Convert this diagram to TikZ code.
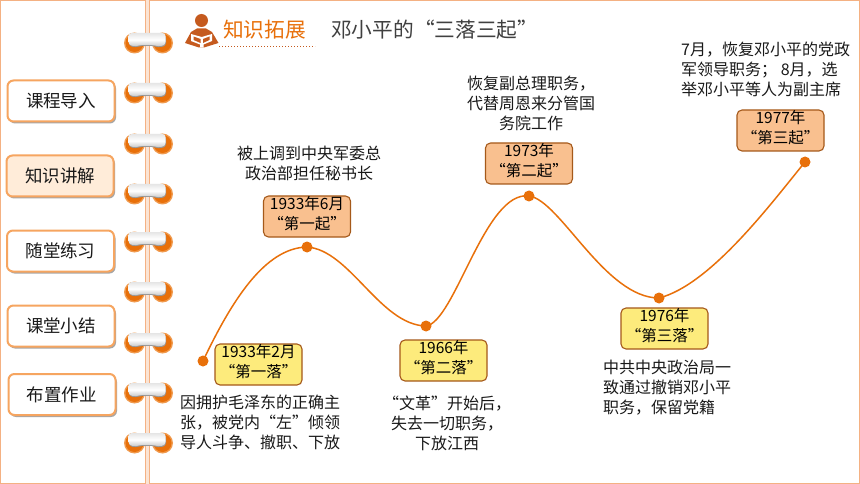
\documentclass[tikz,border=0pt]{standalone}
\usepackage{fontspec}
\setmainfont{Noto Sans CJK SC}
\definecolor{pb}{HTML}{F4B183}
\definecolor{tab}{HTML}{F6A560}
\definecolor{ring}{HTML}{E8700A}
\definecolor{ringo}{HTML}{F09A4E}
\definecolor{brownb}{HTML}{A5591A}
\definecolor{ic}{HTML}{C55A1E}
\definecolor{upfill}{HTML}{F9C08F}
\definecolor{downfill}{HTML}{FDEB7C}
\newcommand{\lowpad}{\rule[-6.5pt]{0pt}{6.5pt}}
\tikzset{
 tabbox/.style={draw=tab,line width=2pt,rounded corners=6pt,fill=white,minimum width=107pt,minimum height=41pt,inner sep=0pt,font=\fontsize{17.5}{20}\selectfont,text=black!90},
 tabshadow/.style={fill=black!35,rounded corners=6pt,draw=none,minimum width=107pt,minimum height=41pt},
 upbox/.style={draw=brownb,line width=1.1pt,rounded corners=5pt,fill=upfill,minimum width=87pt,minimum height=41pt,inner sep=0pt,align=center,font=\fontsize{15.5}{20}\selectfont},
 downbox/.style={upbox,fill=downfill},
 dot/.style={circle,fill=ring,inner sep=0pt,minimum size=11pt},
 txt/.style={font=\fontsize{16}{20}\selectfont,align=left,inner sep=0pt,text=black!90},
 curve/.style={draw=ring,line width=1.5pt},
}
\newcommand{\bindring}[1]{%
 \fill[ringo] (134.5,#1+1) circle (10.5);
 \fill[ringo] (162.5,#1+1) circle (10.5);
 \fill[ring] (134.5,#1+1) circle (9);
 \fill[ring] (162.5,#1+1) circle (9);
 \fill[black!40,rounded corners=3pt]
   (129,#1-7) -- (166,#1-7) -- (166,#1+4) -- (158,#1+5.5) .. controls (152,#1+3.5) and (142,#1+3.5) .. (136,#1+5.5) -- (129,#1+4) -- cycle;
 \shade[top color=black!10,bottom color=black!22,middle color=white,rounded corners=3pt]
   (128.5,#1-9) -- (165.5,#1-9) -- (165.5,#1+3) -- (158,#1+4.5) .. controls (152,#1+2.5) and (142,#1+2.5) .. (136,#1+4.5) -- (128.5,#1+3) -- cycle;
}
\begin{document}
\begin{tikzpicture}[x=1pt,y=-1pt]
\useasboundingbox (0,0) rectangle (860,484);
\fill[white] (0,0) rectangle (860,484);
% page frame
\draw[pb,line width=1pt] (0.5,484) -- (0.5,0.5) -- (859.5,0.5) -- (859.5,484);
\draw[pb,line width=1pt] (0.5,483.5) -- (146,483.5) (149.5,483.5) -- (860,483.5);
\fill[pb!35] (146,0) rectangle (149,484);
\draw[pb,line width=1pt] (145.3,0) -- (145.3,484) (149.5,0) -- (149.5,484);
% rings
\bindring{42}\bindring{92}\bindring{143}\bindring{193}\bindring{241}\bindring{291}\bindring{342}\bindring{392}\bindring{442}
% tabs
\foreach \xx/\yy/\nm/\lb/\fl in {61/101/a/课程导入/white,60/176/b/知识讲解/orange!15,60.5/251/c/随堂练习/white,61/326/d/课堂小结/white,62/394.5/e/布置作业/white}{
 \node[tabshadow] at (\xx+1.5,\yy+2) {};
 \node[tabbox,fill=\fl] (tab\nm) at (\xx,\yy) {\lb};
}
% heading icon
\fill[ic] (201.5,20.5) circle (6.5);
\fill[ic] (185,43) -- (191,32) -- (197,28.5) -- (206,28.5) -- (212,32) -- (218.5,43) -- (204,47.5) -- (199,47.5) -- cycle;
\fill[white] (191,34) -- (201.7,37) -- (212,34) -- (212,41) -- (203.5,44.5) -- (203.5,47.5) -- (200,47.5) -- (200,44.5) -- (191,41) -- cycle;
\fill[ic] (193.5,36.5) -- (200.5,39) -- (200.5,43) -- (193.5,40) -- cycle;
\fill[ic] (209.5,36.5) -- (203,39) -- (203,43) -- (209.5,40) -- cycle;
\node[inner sep=0pt,anchor=west,text=ring,font=\fontsize{20.7}{24}\selectfont] (ttl) at (223,30) {知识拓展};
\coordinate (ua) at (219,47);
\coordinate (ub) at (315,47);
\draw[ic,dotted,line width=1pt] (ua) -- (ub);
\node[inner sep=0pt,anchor=west,text=black!75,font=\fontsize{20.7}{24}\selectfont] (sub) at (331,30) {邓小平的“三落三起”};
% curve dots
\node[dot] (p1) at (203,361) {};
\node[dot] (p2) at (307,247) {};
\node[dot] (p3) at (426,326) {};
\node[dot] (p4) at (529,196) {};
\node[dot] (p5) at (659,298) {};
\node[dot] (p6) at (805,162) {};
\draw[curve] (p1.center) .. controls (232,300) and (265,248) .. (p2.center)
 .. controls (350,250) and (380,325) .. (p3.center)
 .. controls (455,322) and (485,190) .. (p4.center)
 .. controls (560,200) and (605,298) .. (p5.center)
 .. controls (710,285) and (770,205) .. (p6.center);
% boxes
\node[downbox] (b1) at (258.5,364.5) {1933年2月\\“第一落”\lowpad};
\node[upbox] (b2) at (307,216.5) {1933年6月\\“第一起”\lowpad};
\node[downbox] (b3) at (443.5,360.5) {1966年\\“第二落”\lowpad};
\node[upbox] (b4) at (529,163.5) {1973年\\“第二起”\lowpad};
\node[downbox] (b5) at (664.5,328.5) {1976年\\“第三落”\lowpad};
\node[upbox] (b6) at (780.5,130.5) {1977年\\“第三起”\lowpad};
% texts
\node[txt,anchor=north west] (t1) at (180,394.5) {因拥护毛泽东的正确主\\张，被党内“左”倾领\\导人斗争、撤职、下放};
\node[txt,anchor=north,align=center] (t2) at (309,146) {被上调到中央军委总\\政治部担任秘书长};
\node[txt,anchor=north,align=center] (t3) at (447,396) {“文革”开始后，\\失去一切职务，\\下放江西};
\node[txt,anchor=north,align=center] (t4) at (531,75.5) {恢复副总理职务，\\代替周恩来分管国\\务院工作};
\node[txt,anchor=north west] (t5) at (603,360) {中共中央政治局一\\致通过撤销邓小平\\职务，保留党籍};
\node[txt,anchor=north west] (t6) at (681,42) {7月，恢复邓小平的党政\\军领导职务； 8月，选\\举邓小平等人为副主席};
\end{tikzpicture}
\end{document}
